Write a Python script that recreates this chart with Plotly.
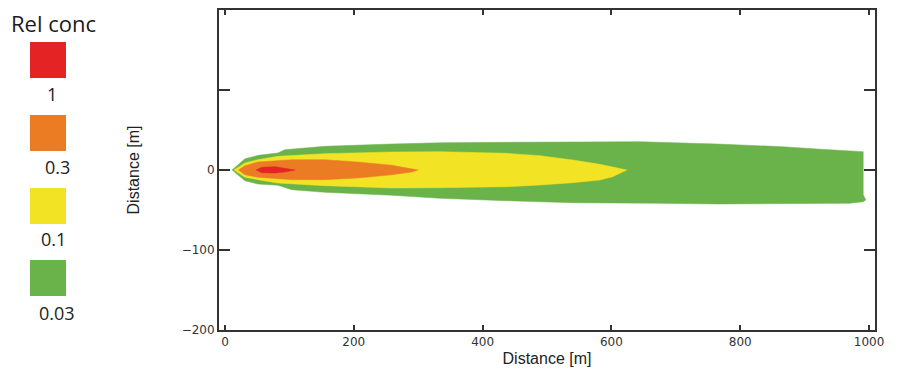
import plotly.graph_objects as go

# ---- data (distance in m) ----
green_x = [11, 31, 52, 82, 93, 155, 259, 337, 437, 540, 644, 764, 866, 919, 944, 991,
           991, 991, 995, 991, 970, 866, 764, 670, 618, 540, 437, 334, 259, 155, 104, 82, 51, 31, 11]
green_y = [0, 14, 18.4, 21.3, 25.4, 29.6, 32.5, 34.1, 34.6, 35.4, 35.4, 32.5, 29.1, 26.3, 25, 22.9,
           0, -31, -37.5, -39.6, -41.6, -42.5, -42.5, -41.6, -41.6, -40.9, -38.4, -35.4, -31.6, -27.9,
           -24.6, -19.1, -17.5, -13.4, 0]

yellow_x = [14, 31, 51, 82, 155, 259, 334, 437, 489, 540, 582, 624,
            613, 602, 582, 540, 489, 437, 334, 259, 155, 82, 51, 31, 14]
yellow_y = [0, 8.8, 12.9, 17.1, 20.4, 22.5, 22.9, 20.9, 17.9, 12.5, 7.1, 0,
            -4.1, -8.4, -12.5, -15.9, -18.8, -20.9, -22.1, -22.5, -19.6, -16.3, -12.1, -9.1, 0]

orange_x = [21, 31, 51, 104, 155, 206, 259, 290, 300, 290, 259, 206, 155, 104, 51, 31, 21]
orange_y = [0, 5.4, 10, 12.9, 12.9, 10, 5.9, 1.6, 0, -2.5, -5.9, -10, -12.1, -12.1, -9.1, -5.9, 0]

red_x = [48, 57, 78, 93, 109, 93, 78, 57, 48]
red_y = [0, 3.4, 4.1, 2.5, 0, -2.5, -3.8, -3.4, 0]

levels = ["1", "0.3", "0.1", "0.03"]
level_colors = ["#e42424", "#ec7c24", "#f2e424", "#6ab24a"]

x_ticks = [0, 200, 400, 600, 800, 1000]
y_ticks = [-200, -100, 0, 100, 200]
y_ticktext = ["\u2212200", "\u2212100", "0", "", ""]

# ---- figure (page body has an 8px margin, so work in page px minus 8) ----
OFF = 8
W, H = 899 - OFF, 379 - OFF
L, R, T, B = 219 - OFF, 24, 10 - OFF, 49

fig = go.Figure()
polys = [(green_x, green_y, level_colors[3]),
         (yellow_x, yellow_y, level_colors[2]),
         (orange_x, orange_y, level_colors[1]),
         (red_x, red_y, level_colors[0])]
for xs, ys, c in polys:
    fig.add_trace(go.Scatter(x=xs, y=ys, mode="lines", fill="toself", fillcolor=c,
                             line=dict(color=c, width=0.5), hoverinfo="skip", showlegend=False))

def px_x(px):
    return (px - OFF - L) / (W - L - R)

def px_y(py):
    return 1 - (py - OFF - T) / (H - T - B)

shapes = []
annotations = []
annotations.append(dict(text="Rel conc", xref="paper", yref="paper", x=px_x(9), y=px_y(23),
                        xanchor="left", yanchor="middle", showarrow=False,
                        font=dict(family="Open Sans", size=22, color="#1a1a1a")))
sw_top = [42, 115, 188, 260]
lab_y = [94, 167, 239, 313]
lab_x = [52, 57, 53, 57]
for i, (lab, col) in enumerate(zip(levels, level_colors)):
    shapes.append(dict(type="rect", xref="paper", yref="paper",
                       x0=px_x(30), x1=px_x(66), y0=px_y(sw_top[i]), y1=px_y(sw_top[i] + 36),
                       fillcolor=col, line=dict(width=0)))
    annotations.append(dict(text=lab, xref="paper", yref="paper", x=px_x(lab_x[i]), y=px_y(lab_y[i]),
                            xanchor="center", yanchor="middle", showarrow=False,
                            font=dict(family="Open Sans", size=18, color="#222")))

fig.update_layout(
    width=W, height=H, margin=dict(l=L, r=R, t=T, b=B, autoexpand=False),
    paper_bgcolor="white", plot_bgcolor="white",
    shapes=shapes, annotations=annotations,
    xaxis=dict(range=[-9.3, 1009.3], tickvals=x_ticks, ticks="inside", ticklen=5, tickwidth=2,
               tickcolor="#333", showline=True, linecolor="#333", linewidth=2, mirror="ticks",
               showgrid=False, zeroline=False,
               tickfont=dict(family="DejaVu Sans", size=12, color="#333"),
               title=dict(text="Distance [m]", standoff=4,
                          font=dict(family="Liberation Sans", size=16, color="#222"))),
    yaxis=dict(range=[-200, 200], tickvals=y_ticks, ticktext=y_ticktext, ticks="inside",
               ticklen=11, tickwidth=2, tickcolor="#333", showline=True, linecolor="#333",
               linewidth=2, mirror="ticks", showgrid=False, zeroline=False,
               tickfont=dict(family="DejaVu Sans", size=12, color="#333"),
               title=dict(text="Distance [m]", standoff=38,
                          font=dict(family="Liberation Sans", size=16, color="#222"))),
)

fig.write_html("out.html")
